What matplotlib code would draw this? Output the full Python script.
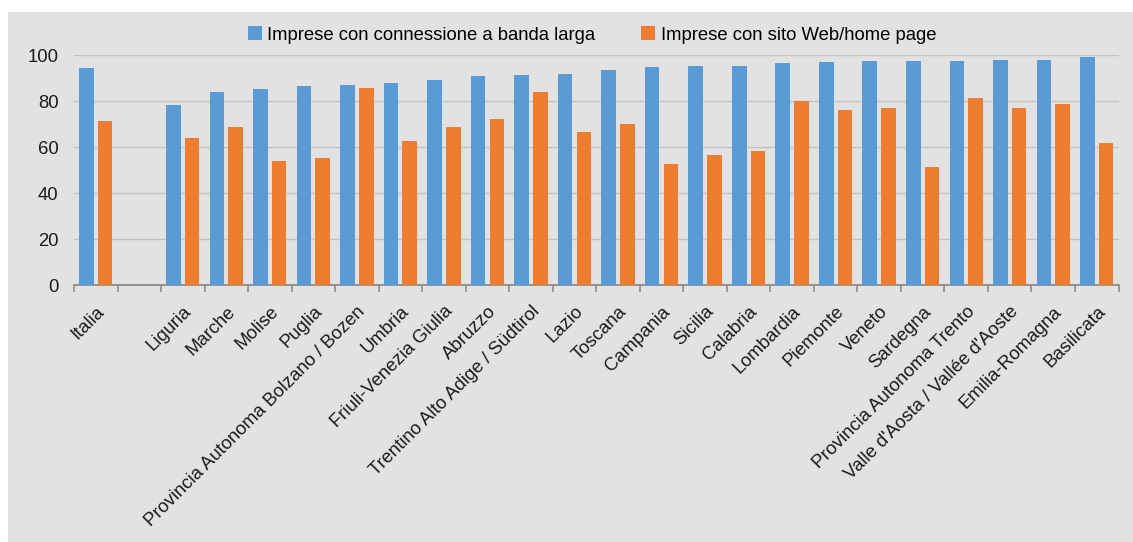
import matplotlib
matplotlib.use("Agg")
import matplotlib.pyplot as plt
from matplotlib.patches import Rectangle
import numpy as np

plt.rcParams['font.family'] = ['Liberation Sans', 'DejaVu Sans']

categories = ["Italia", "", "Liguria", "Marche", "Molise", "Puglia",
              "Provincia Autonoma Bolzano / Bozen", "Umbria", "Friuli-Venezia Giulia",
              "Abruzzo", "Trentino Alto Adige / Südtirol", "Lazio", "Toscana",
              "Campania", "Sicilia", "Calabria", "Lombardia", "Piemonte", "Veneto",
              "Sardegna", "Provincia Autonoma Trento", "Valle d'Aosta / Vallée d'Aoste",
              "Emilia-Romagna", "Basilicata"]
banda_larga = [94.2, np.nan, 78.3, 83.9, 85.4, 86.4, 87.1, 87.7, 89.1, 91.0, 91.3,
               91.6, 93.3, 94.8, 95.1, 95.4, 96.4, 96.8, 97.2, 97.2, 97.2, 97.7,
               97.8, 99.0]
sito_web = [71.3, np.nan, 63.8, 68.6, 54.1, 55.2, 85.7, 62.6, 68.6, 72.3, 83.9,
            66.4, 69.9, 52.6, 56.7, 58.1, 79.9, 76.1, 77.0, 51.2, 81.3, 77.0,
            78.6, 61.7]
series_names = ["Imprese con connessione a banda larga", "Imprese con sito Web/home page"]

FS = 13.3
W, H = 1133, 542
fig = plt.figure(figsize=(W / 100, H / 100), dpi=100)
fig.patch.set_facecolor("white")
fig.patches.append(Rectangle((8 / W, 0), 1, 1 - 12 / H, transform=fig.transFigure,
                             facecolor="#e2e2e2", edgecolor="none", zorder=-10))

ax = fig.add_axes([74 / W, 1 - 285 / H, (1118.5 - 74) / W, 230 / H])
ax.set_facecolor("none")

x = np.arange(len(categories))
bw = 0.335
off = 0.215
ax.bar(x - off, banda_larga, bw, color="#5b9bd5", label=series_names[0], zorder=3)
ax.bar(x + off, sito_web, bw, color="#ed7d31", label=series_names[1], zorder=3)

ax.set_xlim(-0.5, len(categories) - 0.5)
ax.set_ylim(0, 100)
ax.set_yticks([0, 20, 40, 60, 80, 100])
ax.yaxis.grid(True, color="#c2c2c2", linewidth=1.0, zorder=0)
ax.set_axisbelow(True)
for s in ["top", "right", "left"]:
    ax.spines[s].set_visible(False)
ax.spines["bottom"].set_color("#8c8c8c")
ax.spines["bottom"].set_linewidth(1.3)
ax.tick_params(axis="y", length=0, labelsize=FS, pad=11, labelcolor="#1a1a1a")

ax.set_xticks(np.arange(len(categories) + 1) - 0.5, minor=False)
ax.set_xticklabels([])
ax.tick_params(axis="x", which="major", direction="out", length=5, color="#8c8c8c", width=1.2)
ax.set_xticks(x, minor=True)
ax.set_xticklabels(categories, minor=True, rotation=45, ha="right",
                   rotation_mode="anchor", fontsize=FS, color="#1a1a1a")
ax.tick_params(axis="x", which="minor", length=0, pad=13)

ax.legend(loc="upper center", bbox_to_anchor=(518 / (1118.5 - 74), 1 + 36 / 230),
          ncol=2, frameon=False, fontsize=FS, handlelength=0.75, handleheight=0.75,
          handletextpad=0.3, columnspacing=2.5, borderaxespad=0)

fig.savefig("out.png", dpi=100, facecolor=fig.get_facecolor())
